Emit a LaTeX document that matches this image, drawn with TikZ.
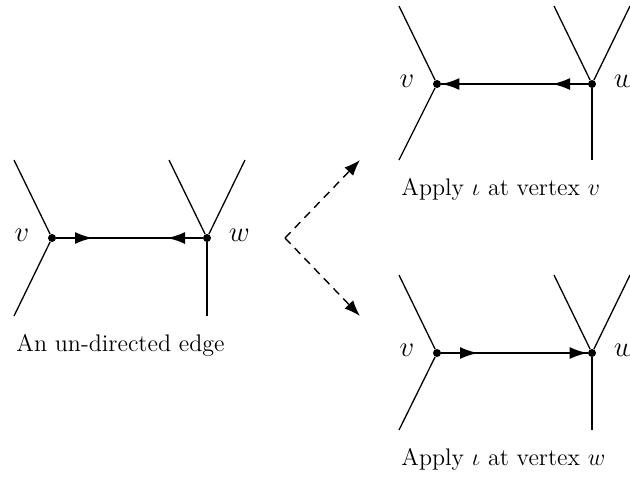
\documentclass[tikz,border=0pt]{standalone}
\usepackage{tikz}
\usetikzlibrary{arrows.meta, positioning}

\tikzset{
  vert/.style={circle, fill=black, inner sep=0pt, minimum size=4pt},
  stub/.style={line width=0.65pt},
  half/.style={line width=1.1pt, -{Latex[length=9pt,width=6pt]}},
  lbl/.style={inner sep=0pt, font=\Large, yshift=1.5pt},
  caption/.style={inner sep=0pt, font=\large},
  choice/.style={line width=0.7pt, dash pattern=on 4pt off 3pt, -{Latex[length=8pt,width=6pt]}}
}

\begin{document}
\begin{tikzpicture}[x=0.5pt, y=-0.5pt]
    \useasboundingbox (0,0) rectangle (630,479);

    % the un-directed edge
    \node[vert] (lv) at (52,238) {};
    \node[vert] (lw) at (207,238) {};
    \coordinate (lva) at (14,160);
    \coordinate (lvb) at (14,316);
    \coordinate (lwa) at (169,160);
    \coordinate (lwb) at (245,160);
    \coordinate (lwc) at (207,316);
    \coordinate (lvh) at (93,238);
    \coordinate (lwh) at (167,238);
    \draw[stub] (lva) -- (lv) -- (lvb);
    \draw[stub] (lwa) -- (lw) -- (lwb);
    \draw[stub] (lw) -- (lwc);
    \draw[stub] (lv) -- (lw);
    \draw[half] (lv) -- (lvh);
    \draw[half] (lw) -- (lwh);
    \node[lbl, left=9pt of lv] (lvl) {$v$};
    \node[lbl, right=8.5pt of lw] (lwl) {$w$};
    \node[caption, below right=9pt and 1pt of lvb] (lcap) {An un-directed edge};

    % the two choices
    \coordinate (split) at (285,238);
    \coordinate (toup) at (360,160);
    \coordinate (todown) at (360,316);
    \draw[choice] (split) -- (toup);
    \draw[choice] (split) -- (todown);

    % iota at v
    \node[vert] (tv) at (437,84) {};
    \node[vert] (tw) at (592,84) {};
    \coordinate (tva) at (399,6);
    \coordinate (tvb) at (399,160);
    \coordinate (twa) at (554,6);
    \coordinate (twb) at (630,6);
    \coordinate (twc) at (592,160);
    \coordinate (tvh) at (477,84);
    \coordinate (twh) at (552,84);
    \draw[stub] (tva) -- (tv) -- (tvb);
    \draw[stub] (twa) -- (tw) -- (twb);
    \draw[stub] (tw) -- (twc);
    \draw[stub] (tv) -- (tw);
    \draw[half] (tvh) -- (tv);
    \draw[half] (tw) -- (twh);
    \node[lbl, left=9pt of tv] (tvl) {$v$};
    \node[lbl, right=8.5pt of tw] (twl) {$w$};
    \node[caption, below right=9pt and 1pt of tvb] (tcap) {Apply $\iota$ at vertex $v$};

    % iota at w
    \node[vert] (bv) at (437,353) {};
    \node[vert] (bw) at (592,353) {};
    \coordinate (bva) at (399,275);
    \coordinate (bvb) at (399,430);
    \coordinate (bwa) at (554,275);
    \coordinate (bwb) at (630,275);
    \coordinate (bwc) at (592,430);
    \coordinate (bvh) at (478,353);
    \coordinate (bwh) at (553,353);
    \draw[stub] (bva) -- (bv) -- (bvb);
    \draw[stub] (bwa) -- (bw) -- (bwb);
    \draw[stub] (bw) -- (bwc);
    \draw[stub] (bv) -- (bw);
    \draw[half] (bv) -- (bvh);
    \draw[half] (bwh) -- (bw);
    \node[lbl, left=9pt of bv] (bvl) {$v$};
    \node[lbl, right=8.5pt of bw] (bwl) {$w$};
    \node[caption, below right=9pt and 1pt of bvb] (bcap) {Apply $\iota$ at vertex $w$};
\end{tikzpicture}
\end{document}
